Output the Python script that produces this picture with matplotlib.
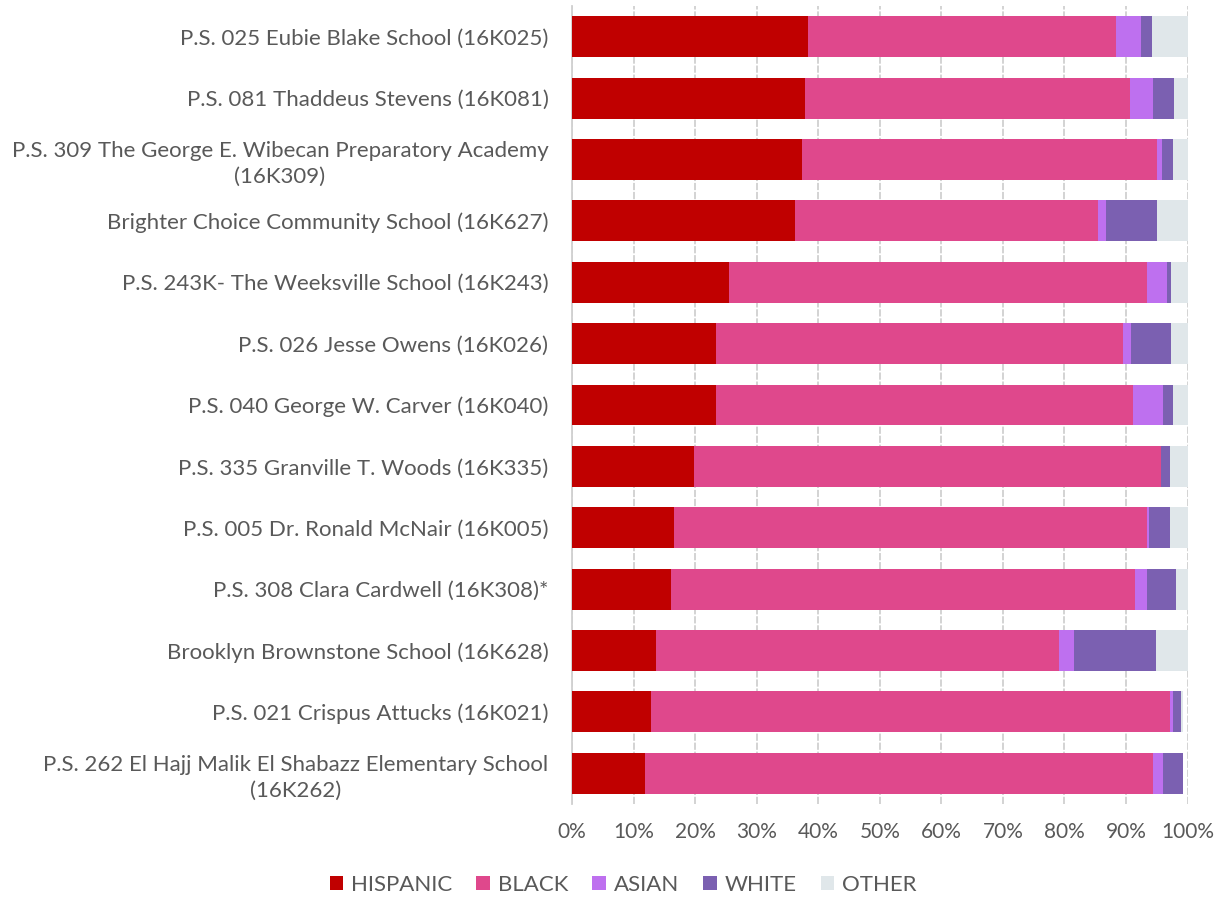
import matplotlib
matplotlib.use("Agg")
import matplotlib.pyplot as plt
import numpy as np

schools = [
    "P.S. 025 Eubie Blake School (16K025)",
    "P.S. 081 Thaddeus Stevens (16K081)",
    "P.S. 309 The George E. Wibecan Preparatory Academy\n(16K309)",
    "Brighter Choice Community School (16K627)",
    "P.S. 243K- The Weeksville School (16K243)",
    "P.S. 026 Jesse Owens (16K026)",
    "P.S. 040 George W. Carver (16K040)",
    "P.S. 335 Granville T. Woods (16K335)",
    "P.S. 005 Dr. Ronald McNair (16K005)",
    "P.S. 308 Clara Cardwell (16K308)*",
    "Brooklyn Brownstone School (16K628)",
    "P.S. 021 Crispus Attucks (16K021)",
    "P.S. 262 El Hajj Malik El Shabazz Elementary School\n(16K262)",
]
hispanic = [38.4, 37.8, 37.4, 36.2, 25.5, 23.4, 23.4, 19.9, 16.6, 16.1, 13.6, 12.8, 11.8]
black    = [50.0, 52.9, 57.7, 49.3, 67.9, 66.2, 67.7, 75.8, 76.8, 75.4, 65.6, 84.4, 82.6]
asian    = [4.0, 3.7, 0.8, 1.3, 3.3, 1.3, 5.0, 0.0, 0.4, 1.9, 2.3, 0.4, 1.7]
white    = [1.8, 3.4, 1.7, 8.3, 0.6, 6.4, 1.5, 1.4, 3.3, 4.7, 13.4, 1.4, 3.1]
other    = [5.8, 2.2, 2.4, 4.9, 2.7, 2.7, 2.4, 2.9, 2.9, 1.9, 5.1, 0.3, 0.0]

series = [("HISPANIC", hispanic, "#C00000"),
          ("BLACK", black, "#DF488C"),
          ("ASIAN", asian, "#BE70EF"),
          ("WHITE", white, "#7B60B1"),
          ("OTHER", other, "#E0E7EA")]

plt.rcParams['font.family'] = ['Lato', 'DejaVu Sans']
txt = "#595959"

fig = plt.figure(figsize=(12.23, 8.98), dpi=100)
ax = fig.add_axes([572/1223, 1-804/898, (1187.5-572)/1223, (804-6)/898])

y = np.arange(len(schools))
left = np.zeros(len(schools))
for name, vals, col in series:
    v = np.array(vals)
    ax.barh(y, v, left=left, height=0.667, color=col, label=name, zorder=3)
    left += v

ax.set_ylim(len(schools) - 0.5, -0.5)
ax.set_xlim(0, 100)
ax.set_yticks(y)
ax.set_yticklabels(schools, fontsize=16, color=txt, multialignment='center',
                   linespacing=1.35)
ax.set_xticks(np.arange(0, 101, 10))
ax.set_xticklabels([f"{v}%" for v in range(0, 101, 10)], fontsize=15, color=txt)
ax.tick_params(axis='y', length=0, pad=17)
ax.tick_params(axis='x', length=0, pad=13)
ax.grid(axis='x', color='#D0D0D0', linestyle=(0, (4, 1)), linewidth=1.3, zorder=0)
for s in ['top', 'right', 'bottom']:
    ax.spines[s].set_visible(False)
ax.spines['left'].set_color('#D0D0D0')
ax.spines['left'].set_linewidth(1.3)

leg = fig.legend(loc='center', bbox_to_anchor=(623/1223, 1-885/898), ncol=5,
                 frameon=False, fontsize=16, handlelength=0.6, handleheight=0.6,
                 handletextpad=0.35, columnspacing=1.1)
for t in leg.get_texts():
    t.set_color(txt)

fig.savefig("out.png", dpi=100)
